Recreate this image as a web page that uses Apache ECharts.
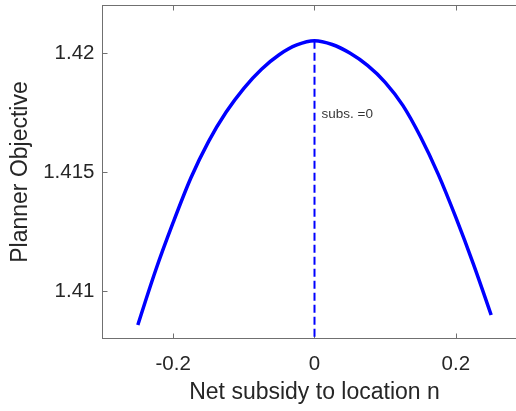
<!DOCTYPE html>
<html>
<head>
<meta charset="utf-8">
<script src="https://cdn.jsdelivr.net/npm/echarts@6/dist/echarts.min.js"></script>
<style>
html,body{margin:0;padding:0;background:#fff;overflow:hidden;width:516px;height:411px;}
#c{width:540px;height:411px;}
</style>
</head>
<body>
<div id="c"></div>
<script>
// Data
const subsidy = [-0.25, -0.225, -0.2, -0.175, -0.15, -0.125, -0.1, -0.075, -0.05, -0.025, 0,
                 0.025, 0.05, 0.075, 0.1, 0.125, 0.15, 0.175, 0.2, 0.225, 0.25];
const objective = [1.40857, 1.41085, 1.41288, 1.41475, 1.41628, 1.41752, 1.41852, 1.41932, 1.41993, 1.42034, 1.42052,
                   1.42036, 1.42000, 1.41948, 1.41877, 1.41780, 1.41648, 1.41491, 1.41309, 1.41112, 1.40899];
const optimumX = 0;
const optimumY = 1.42052;
const yMin = 1.408, yMax = 1.422;
const xMin = -0.3, xMax = 0.3;
const xTicks = [-0.2, 0, 0.2];
const yTicks = [1.41, 1.415, 1.42];
const annotationText = 'subs. =0';
const annotationY = 1.41742;

const font = '"Liberation Sans", Arial, Helvetica, sans-serif';
const axisColor = '#707070';
const textColor = '#262626';

const chart = echarts.init(document.getElementById('c'), null, {renderer: 'canvas'});
chart.setOption({
  animation: false,
  grid: {left: 102.5, right: 13.5, top: 5.5, bottom: 72.5, containLabel: false, outerBoundsMode: 'none'},
  xAxis: [{
    type: 'value', min: xMin, max: xMax, position: 'bottom',
    name: 'Net subsidy to location n', nameLocation: 'middle', nameGap: 43,
    nameTextStyle: {fontFamily: font, fontSize: 23, color: textColor},
    axisLine: {show: true, onZero: false, lineStyle: {color: axisColor, width: 1}},
    axisTick: {show: true, inside: true, length: 5, lineStyle: {color: axisColor}, customValues: xTicks},
    axisLabel: {fontFamily: font, fontSize: 20.5, color: textColor, margin: 15, customValues: xTicks,
      formatter: v => String(Math.round(v * 10) / 10)},
    splitLine: {show: false}
  }, {
    type: 'value', min: xMin, max: xMax, position: 'top',
    axisLine: {show: true, onZero: false, lineStyle: {color: axisColor, width: 1}},
    axisTick: {show: true, inside: true, length: 5, lineStyle: {color: axisColor}, customValues: xTicks},
    axisLabel: {show: false},
    splitLine: {show: false}
  }],
  yAxis: [{
    type: 'value', min: yMin, max: yMax,
    name: 'Planner Objective', nameLocation: 'middle', nameGap: 61,
    nameTextStyle: {fontFamily: font, fontSize: 23, color: textColor},
    axisLine: {show: true, onZero: false, lineStyle: {color: axisColor, width: 1}},
    axisTick: {show: true, inside: true, length: 5, lineStyle: {color: axisColor}, customValues: yTicks},
    axisLabel: {fontFamily: font, fontSize: 20.5, color: textColor, margin: 8, customValues: yTicks,
      formatter: v => String(Math.round(v * 1000) / 1000)},
    splitLine: {show: false}
  }],
  series: [{
    type: 'line',
    data: subsidy.map((x, i) => [x, objective[i]]),
    smooth: 0.3,
    showSymbol: false,
    lineStyle: {color: '#0000ff', width: 3.5, cap: 'butt', join: 'round'},
    z: 3
  }, {
    type: 'line',
    data: [[optimumX, optimumY], [optimumX, yMin]],
    showSymbol: false,
    lineStyle: {color: '#0000ff', width: 2, type: [8, 4]},
    z: 2
  }, {
    type: 'scatter',
    data: [[optimumX, annotationY]],
    symbolSize: 0,
    label: {show: true, position: 'right', distance: 7, formatter: annotationText,
      fontFamily: font, fontSize: 13.5, color: '#000'},
    z: 4
  }]
});
</script>
</body>
</html>
